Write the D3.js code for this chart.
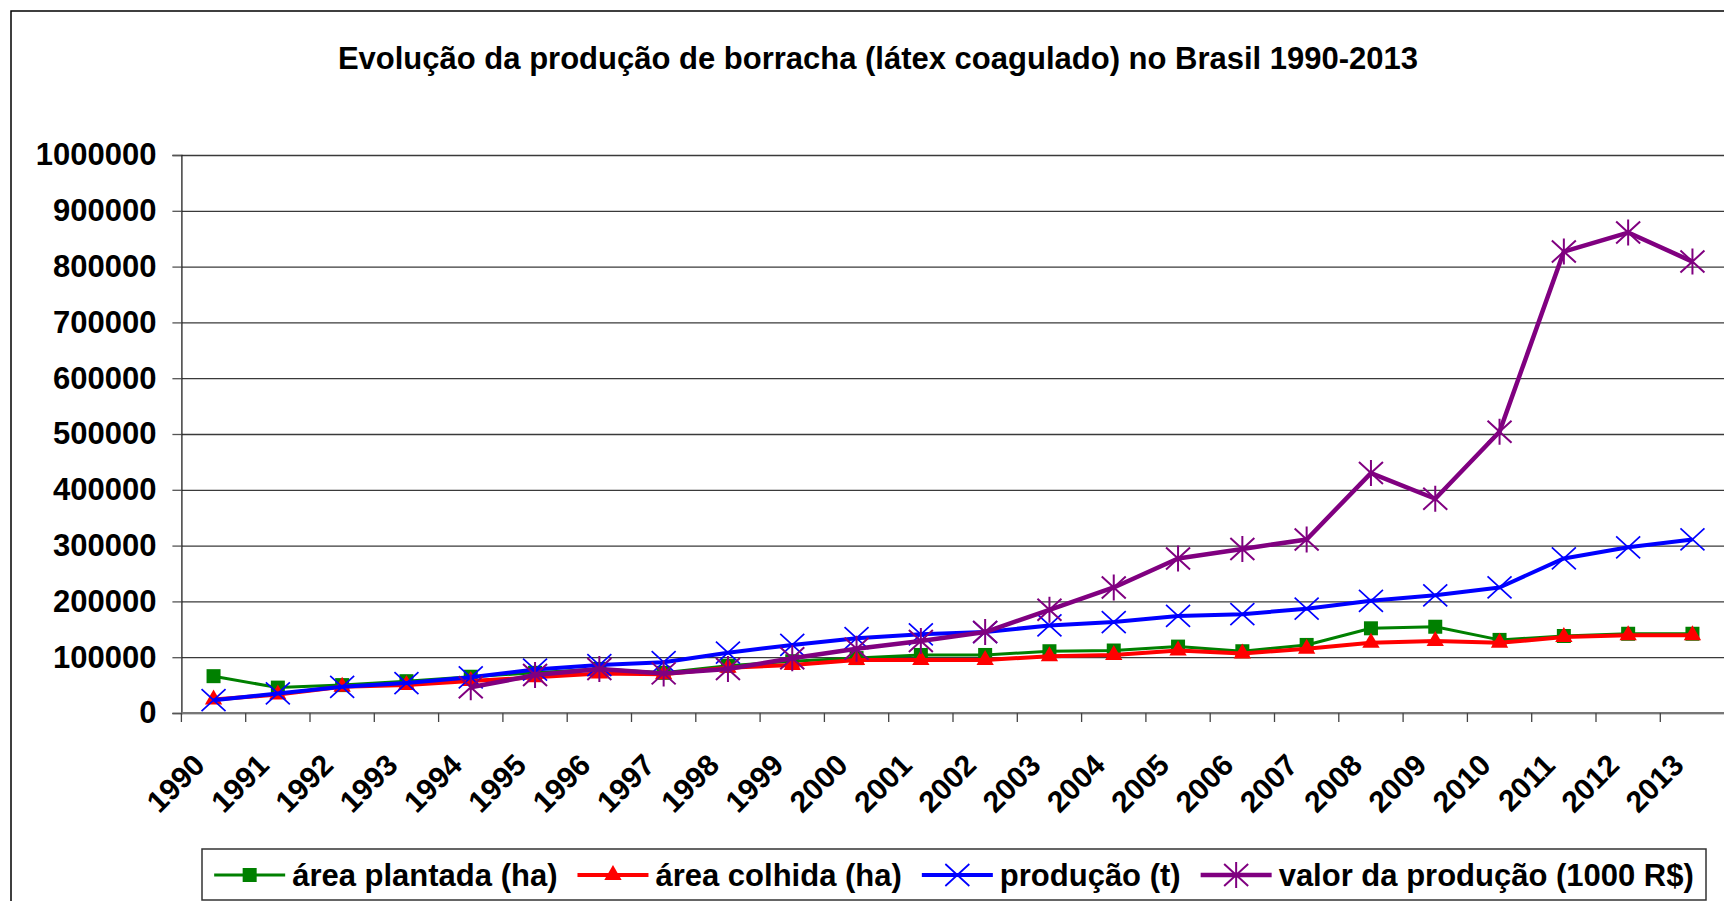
<!DOCTYPE html>
<html>
<head>
<meta charset="utf-8">
<script src="https://cdn.jsdelivr.net/npm/d3@7"></script>
<style>
    body { margin: 0; background: #fff; }
    svg { display: block; font-family: "Liberation Sans", Arial, sans-serif; font-weight: bold; }
</style>
</head>
<body>
<div id="chart"></div>
<script>
/*global d3: false*/

var years = ['1990', '1991', '1992', '1993', '1994', '1995', '1996', '1997',
             '1998', '1999', '2000', '2001', '2002', '2003', '2004', '2005',
             '2006', '2007', '2008', '2009', '2010', '2011', '2012', '2013'];

var yTicks = [0, 100000, 200000, 300000, 400000, 500000, 600000, 700000, 800000, 900000, 1000000];

// área plantada (ha)
var areaPlantada = [66000, 45500, 50000, 57000, 65000, 72000, 79000, 72000,
                    84600, 92800, 98400, 104000, 104000, 110700, 112000, 119000,
                    110700, 122000, 151800, 154600, 131000, 138000, 142000, 142000];

// área colhida (ha)
var areaColhida = [24000, 33000, 47000, 50300, 57200, 64000, 71000, 69500,
                   81200, 86000, 95000, 95000, 95000, 101800, 104000, 112000,
                   106600, 115000, 125800, 129000, 125800, 136000, 139400, 139400];

// produção (t)
var producao = [23000, 35000, 47000, 53700, 64000, 77800, 86000, 91000,
                108000, 122000, 134000, 141000, 145000, 157000, 163000, 174000,
                177000, 187000, 201000, 211000, 225000, 277000, 297000, 311000];

// valor da produção (1000 R$) - no values before 1994
var valor = [null, null, null, null, 46000, 68000, 79000, 71000,
             79000, 98000, 115000, 129000, 145000, 185000, 225000, 277000,
             294000, 311000, 430000, 384000, 504000, 827000, 861000, 809000];

var seriesNames = ['área plantada (ha)', 'área colhida (ha)', 'produção (t)', 'valor da produção (1000 R$)'];

(function() {
    'use strict';
    var width, height, svg, x, y, series, plotLeft, plotRight, plotTop, plotBottom,
        line, legend, lx, gap, items, totalWidth, boxLeft, boxRight;

    width = 1724;
    height = 901;
    plotLeft = 181.4;
    plotRight = 1724.6;
    plotTop = 155;
    plotBottom = 713;

    svg = d3.select('#chart').append('svg')
        .attr('width', width)
        .attr('height', height);

    // Outer frame (cut by the picture edge on the right and bottom)
    svg.append('rect')
        .attr('x', 11)
        .attr('y', 11)
        .attr('width', 1800)
        .attr('height', 1000)
        .attr('fill', 'white')
        .attr('stroke', 'black')
        .attr('stroke-width', 1.5);

    svg.append('text')
        .attr('x', 878)
        .attr('y', 69)
        .attr('text-anchor', 'middle')
        .attr('font-size', 31)
        .text('Evolução da produção de borracha (látex coagulado) no Brasil 1990-2013');

    x = d3.scaleBand().domain(years).range([plotLeft, plotRight]);
    y = d3.scaleLinear().domain([0, 1000000]).range([plotBottom, plotTop]);

    // Grid lines
    svg.append('g')
        .attr('transform', 'translate(' + plotLeft + ',0)')
        .call(d3.axisLeft(y).tickValues(yTicks).tickSize(-(plotRight - plotLeft)).tickFormat(''))
        .call(function(g) {
            g.select('.domain').remove();
            g.selectAll('line').attr('stroke', '#3a3a3a').attr('stroke-width', 1.3);
        });

    // Y axis
    svg.append('g')
        .attr('transform', 'translate(' + plotLeft + ',0)')
        .call(d3.axisLeft(y).tickValues(yTicks).tickSize(9).tickPadding(16).tickFormat(d3.format('d')))
        .call(function(g) {
            g.select('.domain').attr('stroke', '#222').attr('stroke-width', 1.3);
            g.selectAll('line').attr('stroke', '#555').attr('stroke-width', 1.3);
            g.selectAll('text')
                .attr('font-size', 31)
                .attr('font-family', '"Liberation Sans", Arial, sans-serif')
                .attr('fill', 'black');
        });

    // X axis
    svg.append('line')
        .attr('x1', plotLeft)
        .attr('x2', plotRight)
        .attr('y1', plotBottom)
        .attr('y2', plotBottom)
        .attr('stroke', '#777')
        .attr('stroke-width', 2);
    svg.append('g').selectAll('line')
        .data(years)
        .enter().append('line')
        .attr('x1', function(d) { return x(d); })
        .attr('x2', function(d) { return x(d); })
        .attr('y1', plotBottom)
        .attr('y2', plotBottom + 9)
        .attr('stroke', '#444')
        .attr('stroke-width', 1.3);
    svg.append('g').selectAll('text')
        .data(years)
        .enter().append('text')
        .attr('transform', function(d) {
            return 'translate(' + (x(d) + x.bandwidth() / 2 - 7) + ',767) rotate(-45)';
        })
        .attr('text-anchor', 'end')
        .attr('font-size', 30)
        .text(function(d) { return d; });

    series = [
        {name: seriesNames[0], values: areaPlantada, color: '#008000', width: 3, marker: 'square'},
        {name: seriesNames[1], values: areaColhida, color: '#ff0000', width: 4, marker: 'triangle'},
        {name: seriesNames[2], values: producao, color: '#0000ff', width: 4, marker: 'x'},
        {name: seriesNames[3], values: valor, color: '#800080', width: 4.5, marker: 'star'}
    ];

    function drawMarker(g, kind, color) {
        if (kind === 'square') {
            g.append('rect')
                .attr('x', -7).attr('y', -7)
                .attr('width', 14).attr('height', 14)
                .attr('fill', color);
        } else if (kind === 'triangle') {
            g.append('path')
                .attr('d', d3.symbol(d3.symbolTriangle, 130)())
                .attr('fill', color);
        } else {
            g.append('path')
                .attr('d', 'M-12,-11L12,11M-12,11L12,-11' + (kind === 'star' ? 'M0,-13L0,13' : ''))
                .attr('fill', 'none')
                .attr('stroke', color)
                .attr('stroke-width', kind === 'star' ? 2 : 1.7);
        }
    }

    line = d3.line()
        .defined(function(d) { return d !== null; })
        .x(function(d, i) { return x(years[i]) + x.bandwidth() / 2; })
        .y(function(d) { return y(d); });

    // Series: line then markers, in series order
    series.forEach(function(s) {
        var g = svg.append('g');
        g.append('path')
            .attr('d', line(s.values))
            .attr('fill', 'none')
            .attr('stroke', s.color)
            .attr('stroke-width', s.width)
            .attr('stroke-linejoin', 'round');
        s.values.forEach(function(v, i) {
            var m;
            if (v === null) {
                return;
            }
            m = g.append('g')
                .attr('transform', 'translate(' + (x(years[i]) + x.bandwidth() / 2) + ',' + y(v) + ')');
            drawMarker(m, s.marker, s.color);
        });
    });

    // Legend
    boxLeft = 202;
    boxRight = 1706;
    legend = svg.append('g');
    legend.append('rect')
        .attr('x', boxLeft)
        .attr('y', 849)
        .attr('width', boxRight - boxLeft)
        .attr('height', 51)
        .attr('fill', 'white')
        .attr('stroke', '#333')
        .attr('stroke-width', 1.5);

    items = series.map(function(s) {
        var t = legend.append('text')
            .attr('y', 886)
            .attr('font-size', 31)
            .text(s.name);
        return {s: s, text: t, w: t.node().getComputedTextLength()};
    });
    gap = 20;
    totalWidth = d3.sum(items, function(it) { return 71 + 7 + it.w; }) + gap * (items.length - 1);
    lx = (boxLeft + boxRight) / 2 - totalWidth / 2;
    items.forEach(function(it) {
        var m;
        legend.append('line')
            .attr('x1', lx).attr('x2', lx + 71)
            .attr('y1', 875).attr('y2', 875)
            .attr('stroke', it.s.color)
            .attr('stroke-width', it.s.width);
        m = legend.append('g').attr('transform', 'translate(' + (lx + 35.5) + ',875)');
        drawMarker(m, it.s.marker, it.s.color);
        it.text.attr('x', lx + 78);
        lx += 71 + 7 + it.w + gap;
    });
}());
</script>
</body>
</html>
